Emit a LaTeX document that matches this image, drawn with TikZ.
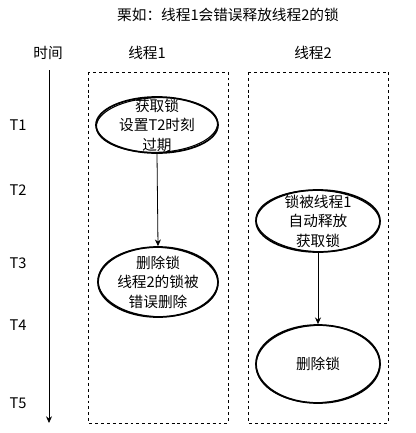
\documentclass[tikz,border=0pt]{standalone}
\usepackage{fontspec}
\setmainfont{Noto Sans CJK SC}
\usetikzlibrary{shapes.geometric,arrows.meta}
\tikzset{
  txt/.style={font=\fontsize{11}{14.6}\selectfont, align=center, inner sep=0pt},
  oval/.style={ellipse, draw, line width=1.3pt, inner sep=0pt},
  ovtext/.style={label={[txt]center:#1}},
  sk/.style={line width=0.8pt},
  lane/.style={draw, dash pattern=on 2.2pt off 2.2pt, line width=0.6pt},
  arr/.style={line width=0.6pt, -{Stealth[length=5pt,width=4.5pt]}}
}
\begin{document}
\begin{tikzpicture}[x=0.75pt,y=-0.75pt]
\useasboundingbox (0,0) rectangle (416,433);
% title and headers
\node[txt] (title) at (228,15) {栗如：线程1会错误释放线程2的锁};
\node[txt] (htime) at (48,53) {时间};
\node[txt] (h1) at (147,53) {线程1};
\node[txt] (h2) at (313,53) {线程2};
% lanes
\draw[lane] (88.5,72) rectangle (228,423);
\draw[lane] (248.5,72) rectangle (388.5,423);
% time axis
\coordinate (ax0) at (49,70);
\coordinate (ax1) at (49,423);
\draw[arr] (ax0) -- (ax1);
\node[txt] (t1) at (18,125) {T1};
\node[txt] (t2) at (18,190) {T2};
\node[txt] (t3) at (18,263) {T3};
\node[txt] (t4) at (18,325) {T4};
\node[txt] (t5) at (18,403) {T5};
% ellipses
\node[oval, minimum width=91.5pt, minimum height=42pt,
  ovtext={获取锁\\设置T2时刻\\过期}] (e1) at (157,125) {};
\node[oval, minimum width=90pt, minimum height=52.5pt,
  ovtext={删除锁\\线程2的锁被\\错误删除}] (e3) at (158,282) {};
\node[oval, minimum width=93pt, minimum height=46.5pt,
  ovtext={锁被线程1\\自动释放\\获取锁}] (e2) at (318,221) {};
\node[oval, minimum width=93pt, minimum height=58.5pt,
  ovtext={删除锁}] (e4) at (318,364) {};
% sketch strokes
\draw[sk] (e1.center) ellipse [x radius=45.5pt, y radius=20.5pt, rotate=2];
\draw[sk] (e3.center) ellipse [x radius=45pt, y radius=26pt, rotate=-2];
\draw[sk] (e2.center) ellipse [x radius=46.5pt, y radius=23pt, rotate=-2];
\draw[sk] (e4.center) ellipse [x radius=46.5pt, y radius=29pt, rotate=2];
% connectors
\draw[arr] (e1.south) -- (e3.north);
\draw[arr] (e2.south) -- (e4.north);
\end{tikzpicture}
\end{document}
